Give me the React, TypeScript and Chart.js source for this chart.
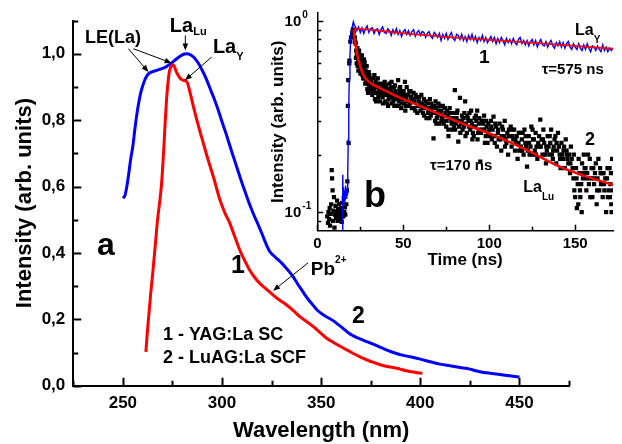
import React, { useEffect, useRef } from 'react';
import { Chart, registerables } from 'chart.js';

Chart.register(...registerables);

const FONT = "'Liberation Sans', Arial, Helvetica, sans-serif";

// ---------------- Panel (a): excitation spectra ----------------
const wavelengthTicks = [250, 300, 350, 400, 450];
const wavelengthMinorTicks = [225, 275, 325, 375, 425, 475];
const intensityTicks = [0, 0.2, 0.4, 0.6, 0.8, 1.0];
const intensityTickLabels = ['0,0', '0,2', '0,4', '0,6', '0,8', '1,0'];
const intensityMinorTicks = [0.1, 0.3, 0.5, 0.7, 0.9, 1.1];

// curve 1 - YAG:La SC (red)
const yagLaSC: [number, number][] = [
  [261.6, 0.102], [262.2, 0.15], [262.9, 0.2], [264, 0.275], [265.2, 0.348], [266.3, 0.42], [267.5, 0.5],
  [268.5, 0.55], [269.4, 0.6], [270.1, 0.66], [270.7, 0.72], [271.3, 0.79], [271.9, 0.85], [272.7, 0.91],
  [273.6, 0.95], [274.5, 0.962], [275.4, 0.967], [276.2, 0.958], [277, 0.945], [277.9, 0.935], [279, 0.925],
  [280.5, 0.92], [282.3, 0.915], [284, 0.88], [285.6, 0.84], [288, 0.785], [290.6, 0.73], [293, 0.68],
  [295.7, 0.628], [299.1, 0.557], [301.5, 0.52], [304, 0.488], [306.5, 0.448], [309, 0.408], [311.5, 0.376],
  [314, 0.348], [316.5, 0.326], [319.1, 0.308], [322.5, 0.29], [325.8, 0.273], [329, 0.258], [332.6, 0.243],
  [336, 0.226], [339.3, 0.208], [342.7, 0.193], [346.1, 0.178], [349.5, 0.16], [352.8, 0.143], [356, 0.131],
  [359.5, 0.119], [362.9, 0.108], [366.2, 0.097], [369.6, 0.087], [373, 0.078], [376.4, 0.07], [379.8, 0.063],
  [383.1, 0.058], [386.5, 0.055], [389.8, 0.05], [393, 0.045], [396.5, 0.041], [400, 0.038], [401, 0.037],
];

// curve 2 - LuAG:La SCF (blue)
const luagLaSCF: [number, number][] = [
  [250, 0.565], [251, 0.572], [252, 0.6], [253, 0.64], [254, 0.685], [255, 0.72], [256, 0.77], [257, 0.815],
  [258, 0.852], [259, 0.882], [260, 0.903], [261, 0.92], [262, 0.932], [263, 0.94], [265, 0.946], [267, 0.95],
  [269, 0.954], [271, 0.958], [273, 0.965], [275, 0.974], [277, 0.984], [279, 0.993], [281, 0.999], [282.5, 1.0],
  [284, 0.997], [286, 0.988], [288, 0.972], [290, 0.95], [292, 0.925], [294, 0.895], [296, 0.865], [298, 0.832],
  [300, 0.795], [302, 0.76], [304, 0.722], [306, 0.685], [308, 0.648], [310, 0.612], [312, 0.578], [314, 0.545],
  [316, 0.515], [318, 0.488], [320, 0.46], [322, 0.43], [324, 0.405], [326, 0.392], [328, 0.381], [330, 0.37],
  [332, 0.357], [334, 0.343], [336, 0.327], [338, 0.308], [340, 0.29], [342, 0.272], [344, 0.256], [346, 0.242],
  [348, 0.228], [350, 0.218], [352, 0.21], [354, 0.203], [356, 0.196], [358, 0.187], [360, 0.178], [362, 0.168],
  [364, 0.158], [366, 0.151], [368, 0.145], [370, 0.14], [373, 0.133], [376, 0.126], [379, 0.118], [382, 0.11],
  [385, 0.103], [388, 0.097], [391, 0.092], [395, 0.087], [400, 0.08], [405, 0.072], [410, 0.065], [415, 0.06],
  [420, 0.055], [425, 0.05], [428, 0.045], [432, 0.04], [436, 0.037], [441, 0.033], [446, 0.029], [450, 0.026],
];

// ---------------- Panel (b): decay curves ----------------
const timeTicks = [0, 50, 100, 150];
const timeMinorTicks = [25, 75, 125];
const decayTicks = [0.1, 1];
const decayTickExponents = ['-1', '0'];
const decayMinorTicks = [0.09, 0.2, 0.3, 0.4, 0.5, 0.6, 0.7, 0.8, 0.9];

// La_Y decay (blue trace, curve 1)
const laYTrace: [number, number][] = [
  [14.6, 0.079], [14.8, 0.157], [15.0, 0.118], [15.3, 0.135], [15.6, 0.112], [15.9, 0.13], [16.2, 0.12],
  [16.5, 0.138], [16.8, 0.118], [17.1, 0.132], [17.4, 0.125], [17.7, 0.16], [18.0, 0.24], [18.3, 0.36],
  [18.6, 0.5], [19.0, 0.66], [19.4, 0.8], [19.8, 0.9], [20.2, 0.93], [20.6, 0.96], [21.0, 0.99], [21.5, 0.95],
  [22, 0.94], [23, 0.89], [24, 0.93], [25, 0.87], [26, 0.92], [27, 0.86], [28, 0.91], [29, 0.94], [30, 0.87], [31, 0.91],
  [32, 0.92], [33, 0.86], [34, 0.90], [35, 0.91], [36, 0.85], [37, 0.90], [38, 0.93], [39, 0.87], [40, 0.86], [41, 0.91],
  [42, 0.89], [43, 0.84], [44, 0.90], [45, 0.86], [46, 0.91], [47, 0.85], [48, 0.89], [49, 0.83], [50, 0.88], [51, 0.90],
  [52, 0.85], [53, 0.89], [54, 0.84], [55, 0.88], [56, 0.90], [57, 0.83], [58, 0.87], [59, 0.89], [60, 0.84], [61, 0.88],
  [62, 0.87], [63, 0.82], [64, 0.86], [65, 0.88], [66, 0.83], [67, 0.81], [68, 0.87], [69, 0.85], [70, 0.82], [71, 0.86],
  [72, 0.79], [73, 0.85], [74, 0.81], [75, 0.86], [76, 0.80], [77, 0.84], [78, 0.87], [79, 0.81], [80, 0.79], [81, 0.85],
  [82, 0.84], [83, 0.80], [84, 0.85], [85, 0.79], [86, 0.83], [87, 0.78], [88, 0.84], [89, 0.80], [90, 0.85], [91, 0.79],
  [92, 0.83], [93, 0.77], [94, 0.82], [95, 0.79], [96, 0.84], [97, 0.78], [98, 0.82], [99, 0.77], [100, 0.80], [101, 0.83],
  [102, 0.78], [103, 0.82], [104, 0.76], [105, 0.81], [106, 0.77], [107, 0.82], [108, 0.79], [109, 0.75], [110, 0.81], [111, 0.77],
  [112, 0.80], [113, 0.76], [114, 0.81], [115, 0.77], [116, 0.75], [117, 0.80], [118, 0.82], [119, 0.76], [120, 0.79], [121, 0.75],
  [122, 0.79], [123, 0.74], [124, 0.78], [125, 0.80], [126, 0.75], [127, 0.79], [128, 0.73], [129, 0.77], [130, 0.80], [131, 0.75],
  [132, 0.74], [133, 0.78], [134, 0.73], [135, 0.77], [136, 0.79], [137, 0.74], [138, 0.72], [139, 0.77], [140, 0.74], [141, 0.78],
  [142, 0.73], [143, 0.77], [144, 0.72], [145, 0.76], [146, 0.78], [147, 0.73], [148, 0.71], [149, 0.76], [150, 0.73], [151, 0.71],
  [152, 0.76], [153, 0.72], [154, 0.70], [155, 0.75], [156, 0.71], [157, 0.76], [158, 0.72], [159, 0.69], [160, 0.74], [161, 0.73],
  [162, 0.70], [163, 0.74], [164, 0.71], [165, 0.69], [166, 0.75], [167, 0.70], [168, 0.73], [169, 0.69], [170, 0.72], [171, 0.70],
  [172, 0.72],
];

// single-exponential fit of La_Y (tau = 575 ns)
const laYFit: [number, number][] = [
  [21.7, 0.913], [30, 0.9], [48, 0.866], [87, 0.81], [126, 0.768], [165, 0.723], [172, 0.716],
];

// La_Lu decay (black squares, curve 2)
const laLuPoints: [number, number][] = [
  [5.8, 0.095], [6.2, 0.088], [6.5, 0.1], [6.9, 0.092], [7.2, 0.105], [7.4, 0.085], [7.8, 0.098], [8.1, 0.11],
  [8.4, 0.166], [8.6, 0.15], [8.9, 0.13], [9.1, 0.09], [9.4, 0.102], [9.7, 0.12], [10, 0.083], [10.3, 0.097],
  [10.6, 0.108], [10.9, 0.093], [11.2, 0.1], [11.5, 0.115], [11.8, 0.09], [12.1, 0.104], [12.4, 0.096], [12.7, 0.11],
  [13, 0.1], [13.3, 0.092], [13.6, 0.097], [13.9, 0.105], [14.2, 0.089], [14.5, 0.112], [14.8, 0.1], [15.1, 0.095],
  [15.4, 0.118], [15.7, 0.1], [16, 0.106], [16.3, 0.097], [16.6, 0.125], [16.9, 0.11], [17.2, 0.13], [17.5, 0.145],
  [17.8, 0.36], [18.0, 0.49], [18.2, 0.23], [18.6, 0.6], [18.7, 0.62], [19.2, 0.78], [19.6, 0.82], [20.3, 0.86],
  [20.7, 0.9], [21.2, 0.88], [21.8, 0.82], [22.3, 0.76], [22.6, 0.7], [23.0, 0.66], [23.3, 0.72], [23.7, 0.63],
  [24.1, 0.68], [24.5, 0.6], [24.9, 0.64], [25.3, 0.57], [25.7, 0.62], [26.1, 0.55], [26.5, 0.59], [26.9, 0.53],
  [27.3, 0.57], [27.7, 0.5], [28.1, 0.55], [28.5, 0.48], [28.9, 0.52], [29.3, 0.47], [29.7, 0.5], [30.1, 0.45],
  [30.5, 0.49], [31, 0.43], [31.5, 0.47], [32, 0.41], [32.5, 0.46], [33, 0.44], [33.5, 0.39], [34, 0.48],
  [34.5, 0.42], [35, 0.45], [35.5, 0.4], [36, 0.44], [36.5, 0.38], [37, 0.47], [37.5, 0.42], [38, 0.4],
  [38.5, 0.45], [39, 0.43], [39.5, 0.38], [40, 0.46], [40.5, 0.41], [41, 0.44], [41.5, 0.39], [42, 0.47],
  [42.5, 0.4], [43, 0.43], [43.5, 0.37], [44, 0.42], [44.5, 0.45], [45, 0.39], [45.5, 0.43], [46, 0.36],
  [46.5, 0.41], [47, 0.49], [47.5, 0.38], [48, 0.42], [48.5, 0.4], [49, 0.37], [49.5, 0.43], [50, 0.39],
  [51, 0.48], [51.5, 0.36], [52, 0.45], [52.5, 0.38], [53, 0.41], [54, 0.37], [54.5, 0.4], [55, 0.35],
  [56, 0.42], [56.5, 0.38], [57, 0.34], [58, 0.4], [58.5, 0.36], [59, 0.38], [60, 0.34], [61, 0.37],
  [61.5, 0.33], [62, 0.39], [63, 0.35], [63.5, 0.31], [64, 0.37], [65, 0.34], [65.5, 0.39], [66, 0.32],
  [67, 0.36], [67.6, 0.243], [68, 0.33], [68.5, 0.3], [69, 0.35], [70, 0.32], [70.5, 0.37], [71, 0.29],
  [72, 0.34], [72.5, 0.31], [73, 0.36], [74, 0.3], [74.5, 0.33], [75, 0.28], [76, 0.32], [76.3, 0.25],
  [77, 0.35], [78, 0.3], [78.5, 0.27], [79, 0.33], [80, 0.435], [80.5, 0.29], [81, 0.31], [82, 0.234],
  [82.5, 0.28], [83, 0.396], [84, 0.3], [84.5, 0.27], [85, 0.31], [86, 0.38], [86.5, 0.29], [87, 0.26],
  [88, 0.3], [88.5, 0.33], [89, 0.27], [90, 0.29], [91, 0.25], [91.5, 0.31], [92, 0.28], [93, 0.34],
  [93.5, 0.26], [94, 0.29], [94.8, 0.184], [95.5, 0.3], [96, 0.27], [97, 0.32], [98, 0.25], [98.5, 0.28],
  [99, 0.23], [100, 0.27], [101, 0.3], [101.5, 0.24], [102, 0.27], [102.5, 0.316], [103, 0.25], [104, 0.28],
  [104.5, 0.22], [105, 0.26], [106, 0.29], [106.5, 0.24], [107, 0.21], [108, 0.27], [108.5, 0.25], [109, 0.3],
  [110, 0.23], [110.5, 0.26], [111, 0.2], [112, 0.25], [112.5, 0.28], [113, 0.22], [114, 0.24], [114.5, 0.27],
  [115, 0.21], [116, 0.25], [116.5, 0.19], [117, 0.23], [118, 0.26], [118.5, 0.22], [119, 0.24], [120, 0.2],
  [120.5, 0.27], [121, 0.23], [122, 0.173], [122.5, 0.21], [123, 0.25], [124, 0.22], [124.5, 0.28], [125, 0.2],
  [126, 0.24], [126.5, 0.21], [127, 0.26], [128, 0.19], [128.5, 0.23], [129, 0.25], [129.7, 0.305], [130, 0.22],
  [131, 0.2], [131.5, 0.27], [132, 0.23], [133, 0.18], [133.5, 0.21], [134, 0.25], [135, 0.2], [135.5, 0.23],
  [136, 0.27], [137, 0.19], [137.5, 0.22], [138, 0.24], [139, 0.18], [139.5, 0.21], [140, 0.26], [141, 0.2],
  [141.5, 0.17], [142, 0.23], [143, 0.19], [143.5, 0.22], [144, 0.17], [145, 0.21], [146, 0.18], [146.5, 0.2],
  [147, 0.16], [148, 0.19], [149, 0.15], [149.5, 0.13], [150, 0.12], [150.5, 0.17], [151, 0.105], [151.5, 0.14],
  [152, 0.19], [152.5, 0.16], [153, 0.12], [154, 0.18], [154.5, 0.15], [155, 0.2], [156, 0.17], [156.5, 0.13],
  [157, 0.16], [158, 0.14], [158.5, 0.19], [159, 0.15], [160, 0.12], [160.5, 0.17], [161, 0.14], [162, 0.18],
  [162.5, 0.11], [163, 0.15], [164, 0.13], [164.5, 0.17], [165, 0.14], [166, 0.12], [166.5, 0.16], [167, 0.13],
  [168, 0.1], [168.5, 0.15], [169, 0.12], [170, 0.17], [170.5, 0.14], [171, 0.11], [171.5, 0.19],
  [22.5, 0.64], [23.5, 0.58], [24.3, 0.7], [25.1, 0.53], [25.9, 0.66], [26.7, 0.5], [27.5, 0.61], [28.3, 0.52],
  [29.1, 0.44], [29.9, 0.54], [30.8, 0.5], [31.8, 0.45], [32.8, 0.5], [33.8, 0.42], [34.8, 0.47], [35.8, 0.43],
  [36.8, 0.41], [37.8, 0.46], [38.8, 0.41], [39.8, 0.44], [40.8, 0.37], [41.8, 0.42], [42.8, 0.45], [43.8, 0.4],
  [44.8, 0.36], [45.8, 0.41], [46.8, 0.39], [47.8, 0.44], [48.8, 0.35], [49.8, 0.41], [50.5, 0.37], [51.8, 0.4],
  [53.5, 0.43], [55.5, 0.38], [57.5, 0.4], [59.5, 0.36], [60.5, 0.41], [62.5, 0.36], [64.5, 0.33], [66.5, 0.35],
  [68.8, 0.38], [69.5, 0.31], [71.5, 0.33], [73.5, 0.29], [75.5, 0.34], [77.5, 0.31], [79.5, 0.28], [81.5, 0.34],
  [83.5, 0.29], [85.5, 0.33], [87.5, 0.31], [89.5, 0.34], [90.5, 0.26], [92.5, 0.3], [94.3, 0.27], [96.5, 0.29],
  [97.5, 0.23], [99.5, 0.29], [100.5, 0.25], [103.5, 0.29], [105.5, 0.24], [107.5, 0.28], [109.5, 0.24], [111.5, 0.27],
  [113.5, 0.25], [115.5, 0.23], [117.5, 0.21], [119.5, 0.26], [121.5, 0.22], [123.5, 0.2], [125.5, 0.24], [127.5, 0.22],
  [130.5, 0.24], [132.5, 0.2], [134.5, 0.22], [136.5, 0.2], [138.5, 0.25], [140.5, 0.22], [142.5, 0.2], [144.5, 0.24],
  [145.5, 0.19], [147.5, 0.22], [148.5, 0.17], [150.8, 0.15], [151.8, 0.11], [153.5, 0.14], [153.8, 0.1], [155.5, 0.17],
  [157.5, 0.2], [159.5, 0.17], [161.5, 0.16], [163.5, 0.19], [165.5, 0.16], [167.5, 0.15], [169.5, 0.13], [170.8, 0.16],
  [171.2, 0.1], [171.8, 0.13],
  [22.1, 0.78], [22.9, 0.6], [23.9, 0.55], [24.7, 0.66], [25.5, 0.6], [26.3, 0.52], [27.1, 0.63], [27.9, 0.47],
  [28.7, 0.58], [29.5, 0.42], [30.3, 0.52], [31.2, 0.48], [32.2, 0.43], [33.2, 0.52], [34.2, 0.38], [35.2, 0.5],
  [36.2, 0.41], [37.2, 0.44], [38.2, 0.37], [39.2, 0.48], [40.2, 0.42], [41.2, 0.36], [42.2, 0.43], [43.2, 0.48],
  [44.2, 0.38], [45.2, 0.46], [46.2, 0.4], [47.2, 0.36], [48.2, 0.45], [49.2, 0.39], [50.2, 0.43], [51.2, 0.34],
  [52.2, 0.41], [53.2, 0.36], [54.2, 0.43], [55.2, 0.39], [56.2, 0.35], [57.2, 0.41], [58.2, 0.33], [59.2, 0.4],
  [60.2, 0.37], [61.2, 0.35], [62.2, 0.32], [63.2, 0.38], [64.2, 0.35], [65.2, 0.31], [66.2, 0.37], [67.2, 0.33],
  [68.2, 0.36], [69.2, 0.29], [70.2, 0.34], [71.2, 0.36], [72.2, 0.3], [73.2, 0.32], [74.2, 0.35], [75.2, 0.3],
  [76.2, 0.27], [77.2, 0.33], [78.2, 0.29], [79.2, 0.31], [80.2, 0.27], [81.2, 0.33], [82.2, 0.3], [83.2, 0.26],
  [84.2, 0.32], [85.2, 0.28], [86.2, 0.25], [87.2, 0.32], [88.2, 0.28], [89.2, 0.3], [90.2, 0.24], [91.2, 0.28],
  [92.2, 0.32], [93.2, 0.24], [94.2, 0.31], [95.2, 0.26], [96.2, 0.3], [97.2, 0.27], [98.2, 0.3], [99.2, 0.26],
  [101.2, 0.28], [103.2, 0.23], [105.2, 0.27], [107.2, 0.25], [109.2, 0.22], [111.2, 0.25], [113.2, 0.27], [115.2, 0.24],
  [117.2, 0.26], [119.2, 0.21], [121.2, 0.25], [123.2, 0.23], [125.2, 0.27], [127.2, 0.2], [129.2, 0.22], [131.2, 0.24],
  [133.2, 0.22], [135.2, 0.25], [137.2, 0.21], [139.2, 0.23], [141.2, 0.19], [143.2, 0.21], [145.2, 0.2], [147.2, 0.18],
  [149.2, 0.2], [152.8, 0.13], [154.8, 0.16], [156.8, 0.15], [158.8, 0.12], [160.8, 0.15], [162.8, 0.13], [164.8, 0.16],
  [166.8, 0.14], [168.8, 0.17], [170.2, 0.12],
];

// fit of La_Lu decay (tau = 170 ns)
const laLuFit: [number, number][] = [
  [20.8, 0.9], [21.1, 0.894], [21.7, 0.81], [22.5, 0.73], [23.2, 0.67], [24, 0.624], [25, 0.578], [26, 0.542],
  [27.5, 0.51], [29, 0.49], [31.5, 0.47], [34, 0.456], [40, 0.43], [48, 0.397], [57, 0.367], [72.5, 0.322],
  [86, 0.287], [102.5, 0.253], [122, 0.211], [141, 0.173], [158, 0.152], [172, 0.139],
];

// ---------------- drawing helpers ----------------
type Part = { t: string; s: number; dy?: number };

function drawParts(ctx: CanvasRenderingContext2D, x: number, y: number, parts: Part[]) {
  let cx = x;
  ctx.textAlign = 'left';
  ctx.textBaseline = 'alphabetic';
  ctx.fillStyle = '#000';
  for (const p of parts) {
    ctx.font = `bold ${p.s}px ${FONT}`;
    ctx.fillText(p.t, cx, y + (p.dy || 0));
    cx += ctx.measureText(p.t).width;
  }
}

function drawArrow(ctx: CanvasRenderingContext2D, x1: number, y1: number, x2: number, y2: number) {
  const a = Math.atan2(y2 - y1, x2 - x1);
  const L = 7;
  const W = 2.8;
  const c = Math.cos(a);
  const s = Math.sin(a);
  ctx.strokeStyle = '#000';
  ctx.fillStyle = '#000';
  ctx.lineWidth = 1;
  ctx.beginPath();
  ctx.moveTo(x1, y1);
  ctx.lineTo(x2 - c * L * 0.7, y2 - s * L * 0.7);
  ctx.stroke();
  ctx.beginPath();
  ctx.moveTo(x2, y2);
  ctx.lineTo(x2 - L * c + W * s, y2 - L * s - W * c);
  ctx.lineTo(x2 - L * c - W * s, y2 - L * s + W * c);
  ctx.closePath();
  ctx.fill();
}

function makeTickPlugin(id: string, xMajor: number[], xMinor: number[], yMajor: number[], yMinor: number[],
  majorLen: number, minorLen: number, width: number, yMajorOut: number) {
  return {
    id,
    afterDraw(chart: any) {
      const { ctx, chartArea } = chart;
      const xs = chart.scales.x;
      const ys = chart.scales.y;
      ctx.save();
      ctx.strokeStyle = '#000';
      ctx.lineWidth = width;
      ctx.beginPath();
      const b = chartArea.bottom;
      const l = chartArea.left;
      for (const v of xMajor) {
        const p = Math.round(xs.getPixelForValue(v)) + 0.5;
        ctx.moveTo(p, b);
        ctx.lineTo(p, b - majorLen);
      }
      for (const v of xMinor) {
        const p = Math.round(xs.getPixelForValue(v)) + 0.5;
        ctx.moveTo(p, b);
        ctx.lineTo(p, b - minorLen);
      }
      for (const v of yMajor) {
        const p = Math.round(ys.getPixelForValue(v)) + 0.5;
        ctx.moveTo(l - yMajorOut, p);
        ctx.lineTo(l + majorLen, p);
      }
      for (const v of yMinor) {
        const p = Math.round(ys.getPixelForValue(v)) + 0.5;
        ctx.moveTo(l, p);
        ctx.lineTo(l + minorLen, p);
      }
      ctx.stroke();
      ctx.restore();
    },
  };
}

const axisFont = (size: number) => ({ family: FONT, size, weight: 'bold' as const });

export default function App() {
  const mainRef = useRef<HTMLCanvasElement | null>(null);
  const insetRef = useRef<HTMLCanvasElement | null>(null);

  useEffect(() => {
    if (!mainRef.current || !insetRef.current) return;

    // annotations of panel (a), positions in data coordinates (nm, intensity)
    const panelAText: { at: [number, number]; parts: Part[] }[] = [
      { at: [230.9, 1.031], parts: [{ t: 'LE(La)', s: 18 }] },
      { at: [273.7, 1.064], parts: [{ t: 'La', s: 20 }, { t: 'Lu', s: 11, dy: 3 }] },
      { at: [295.4, 1.001], parts: [{ t: 'La', s: 20 }, { t: 'Y', s: 11, dy: 7 }] },
      { at: [237.0, 0.393], parts: [{ t: 'a', s: 32 }] },
      { at: [304.5, 0.339], parts: [{ t: '1', s: 25 }] },
      { at: [365.5, 0.189], parts: [{ t: '2', s: 23 }] },
      { at: [344.8, 0.333], parts: [{ t: 'Pb', s: 19 }, { t: '2+', s: 10, dy: -12 }] },
      { at: [270.2, 0.1374], parts: [{ t: '1 - YAG:La SC', s: 18 }] },
      { at: [270.2, 0.0683], parts: [{ t: '2 - LuAG:La SCF', s: 18 }] },
    ];
    const panelAArrows: [number, number, number, number][] = [
      [252.8, 1.015, 262.9, 0.945],
      [255.3, 1.015, 274.6, 0.972],
      [281.5, 1.055, 281.5, 1.01],
      [294.8, 0.99, 281.3, 0.92],
      [343.4, 0.37, 325.8, 0.286],
    ];

    const panelAAnnotations = {
      id: 'panelAAnnotations',
      afterDatasetsDraw(chart: any) {
        const { ctx } = chart;
        const xs = chart.scales.x;
        const ys = chart.scales.y;
        ctx.save();
        for (const a of panelAArrows) {
          drawArrow(ctx, xs.getPixelForValue(a[0]), ys.getPixelForValue(a[1]), xs.getPixelForValue(a[2]), ys.getPixelForValue(a[3]));
        }
        for (const t of panelAText) {
          drawParts(ctx, xs.getPixelForValue(t.at[0]), ys.getPixelForValue(t.at[1]), t.parts);
        }
        ctx.restore();
      },
    };

    const mainChart = new Chart(mainRef.current, {
      type: 'line',
      data: {
        datasets: [
          {
            data: yagLaSC.map(([x, y]) => ({ x, y })),
            borderColor: '#ff0000',
            borderWidth: 3,
            pointRadius: 0,
            cubicInterpolationMode: 'monotone',
            fill: false,
          },
          {
            data: luagLaSCF.map(([x, y]) => ({ x, y })),
            borderColor: '#0000ff',
            borderWidth: 3,
            pointRadius: 0,
            cubicInterpolationMode: 'monotone',
            fill: false,
          },
        ],
      },
      options: {
        responsive: false,
        animation: false,
        devicePixelRatio: 1,
        events: [],
        layout: { padding: { left: 0, right: 53, top: 20.5, bottom: 0 } },
        plugins: { legend: { display: false }, tooltip: { enabled: false } },
        scales: {
          x: {
            type: 'linear',
            min: 225,
            max: 475,
            afterBuildTicks: (s: any) => { s.ticks = wavelengthTicks.map((v) => ({ value: v })); },
            afterFit: (s: any) => { s.height = 58.3; },
            grid: { display: false, drawTicks: false },
            border: { display: true, color: '#000', width: 2 },
            ticks: { color: '#000', font: axisFont(17), padding: 7, maxRotation: 0, autoSkip: false },
            title: { display: true, text: 'Wavelength (nm)', color: '#000', font: axisFont(22), padding: { top: 0, bottom: 0 } },
          },
          y: {
            type: 'linear',
            min: 0,
            max: 1.1,
            afterBuildTicks: (s: any) => { s.ticks = intensityTicks.map((v) => ({ value: v })); },
            afterFit: (s: any) => { s.width = 73.3; },
            grid: { display: false, drawTicks: false },
            border: { display: true, color: '#000', width: 2 },
            ticks: {
              color: '#000',
              font: axisFont(17),
              padding: 8,
              autoSkip: false,
              callback: (_v: any, i: number) => intensityTickLabels[i],
            },
            title: { display: true, text: 'Intensity (arb. units)', color: '#000', font: axisFont(22), padding: { top: 12, bottom: 0 } },
          },
        },
      },
      plugins: [
        makeTickPlugin('panelATicks', wavelengthTicks, wavelengthMinorTicks, intensityTicks, intensityMinorTicks, 8, 5, 2, 0),
        panelAAnnotations,
      ],
    } as any);

    // annotations of panel (b), positions in data coordinates (ns, intensity)
    const panelBText: { at: [number, number]; parts: Part[] }[] = [
      { at: [149.9, 0.842], parts: [{ t: 'La', s: 16 }, { t: 'Y', s: 10, dy: 8 }] },
      { at: [94.1, 0.599], parts: [{ t: '1', s: 19 }] },
      { at: [130.5, 0.53], parts: [{ t: '\u03c4=575 ns', s: 15 }] },
      { at: [155.7, 0.224], parts: [{ t: '2', s: 18 }] },
      { at: [65.6, 0.1658], parts: [{ t: '\u03c4=170 ns', s: 15 }] },
      { at: [119.8, 0.1277], parts: [{ t: 'La', s: 16 }, { t: 'Lu', s: 10, dy: 8 }] },
      { at: [27.2, 0.1066], parts: [{ t: 'b', s: 36 }] },
    ];

    const panelBAnnotations = {
      id: 'panelBAnnotations',
      afterDraw(chart: any) {
        const { ctx, chartArea } = chart;
        const xs = chart.scales.x;
        const ys = chart.scales.y;
        ctx.save();
        for (const t of panelBText) {
          drawParts(ctx, xs.getPixelForValue(t.at[0]), ys.getPixelForValue(t.at[1]), t.parts);
        }
        // log-axis labels 10^n
        ctx.fillStyle = '#000';
        decayTicks.forEach((v, i) => {
          const py = ys.getPixelForValue(v);
          ctx.font = `bold 15px ${FONT}`;
          ctx.textAlign = 'right';
          ctx.textBaseline = 'middle';
          ctx.fillText('10', chartArea.left - 16, py + 1);
          ctx.font = `bold 10px ${FONT}`;
          ctx.textAlign = 'left';
          ctx.fillText(decayTickExponents[i], chartArea.left - 15, py - 5.5);
        });
        ctx.restore();
      },
    };

    const insetChart = new Chart(insetRef.current, {
      type: 'scatter',
      data: {
        datasets: [
          {
            data: laYFit.map(([x, y]) => ({ x, y })),
            showLine: true,
            borderColor: '#ff0000',
            borderWidth: 1.8,
            pointRadius: 0,
            cubicInterpolationMode: 'monotone',
          },
          {
            data: laLuFit.map(([x, y]) => ({ x, y })),
            showLine: true,
            borderColor: '#ff0000',
            borderWidth: 2.5,
            pointRadius: 0,
            cubicInterpolationMode: 'monotone',
          },
          {
            data: laYTrace.map(([x, y]) => ({ x, y })),
            showLine: true,
            borderColor: '#0000ff',
            borderWidth: 1.4,
            pointRadius: 0,
          },
          {
            data: laLuPoints.map(([x, y]) => ({ x, y })),
            showLine: false,
            pointStyle: 'rect',
            pointRadius: 3,
            pointBorderWidth: 0,
            pointBackgroundColor: '#000',
            borderColor: '#000',
          },
        ],
      },
      options: {
        responsive: false,
        animation: false,
        devicePixelRatio: 1,
        events: [],
        layout: { padding: { left: 0, right: 9, top: 13, bottom: 0 } },
        plugins: { legend: { display: false }, tooltip: { enabled: false } },
        scales: {
          x: {
            type: 'linear',
            min: 0,
            max: 172,
            afterBuildTicks: (s: any) => { s.ticks = timeTicks.map((v) => ({ value: v })); },
            afterFit: (s: any) => { s.height = 49.3; },
            grid: { display: false, drawTicks: false },
            border: { display: true, color: '#000', width: 1.5 },
            ticks: { color: '#000', font: axisFont(15), padding: 4, maxRotation: 0, autoSkip: false },
            title: { display: true, text: 'Time (ns)', color: '#000', font: axisFont(17), padding: { top: 0, bottom: 9 } },
          },
          y: {
            type: 'logarithmic',
            min: 0.08,
            max: 1.1,
            afterBuildTicks: (s: any) => { s.ticks = decayTicks.map((v) => ({ value: v })); },
            afterFit: (s: any) => { s.width = 55.3; },
            grid: { display: false, drawTicks: false },
            border: { display: true, color: '#000', width: 1.5 },
            ticks: { color: '#000', font: axisFont(15), callback: () => '' },
            title: { display: true, text: 'Intensity (arb. units)', color: '#000', font: axisFont(17), padding: { top: 6, bottom: 0 } },
          },
        },
      },
      plugins: [
        makeTickPlugin('panelBTicks', timeTicks, timeMinorTicks, decayTicks, decayMinorTicks, 6, 4, 1.5, 0),
        panelBAnnotations,
      ],
    } as any);

    return () => {
      mainChart.destroy();
      insetChart.destroy();
    };
  }, []);

  return (
    <div style={{ position: 'absolute', left: 0, top: 0, width: 622, height: 444, background: '#fff', overflow: 'hidden' }}>
      <canvas ref={mainRef} width={622} height={444} style={{ position: 'absolute', left: 0, top: 0, display: 'block' }} />
      <canvas ref={insetRef} width={360} height={280} style={{ position: 'absolute', left: 262, top: 0, display: 'block' }} />
    </div>
  );
}
